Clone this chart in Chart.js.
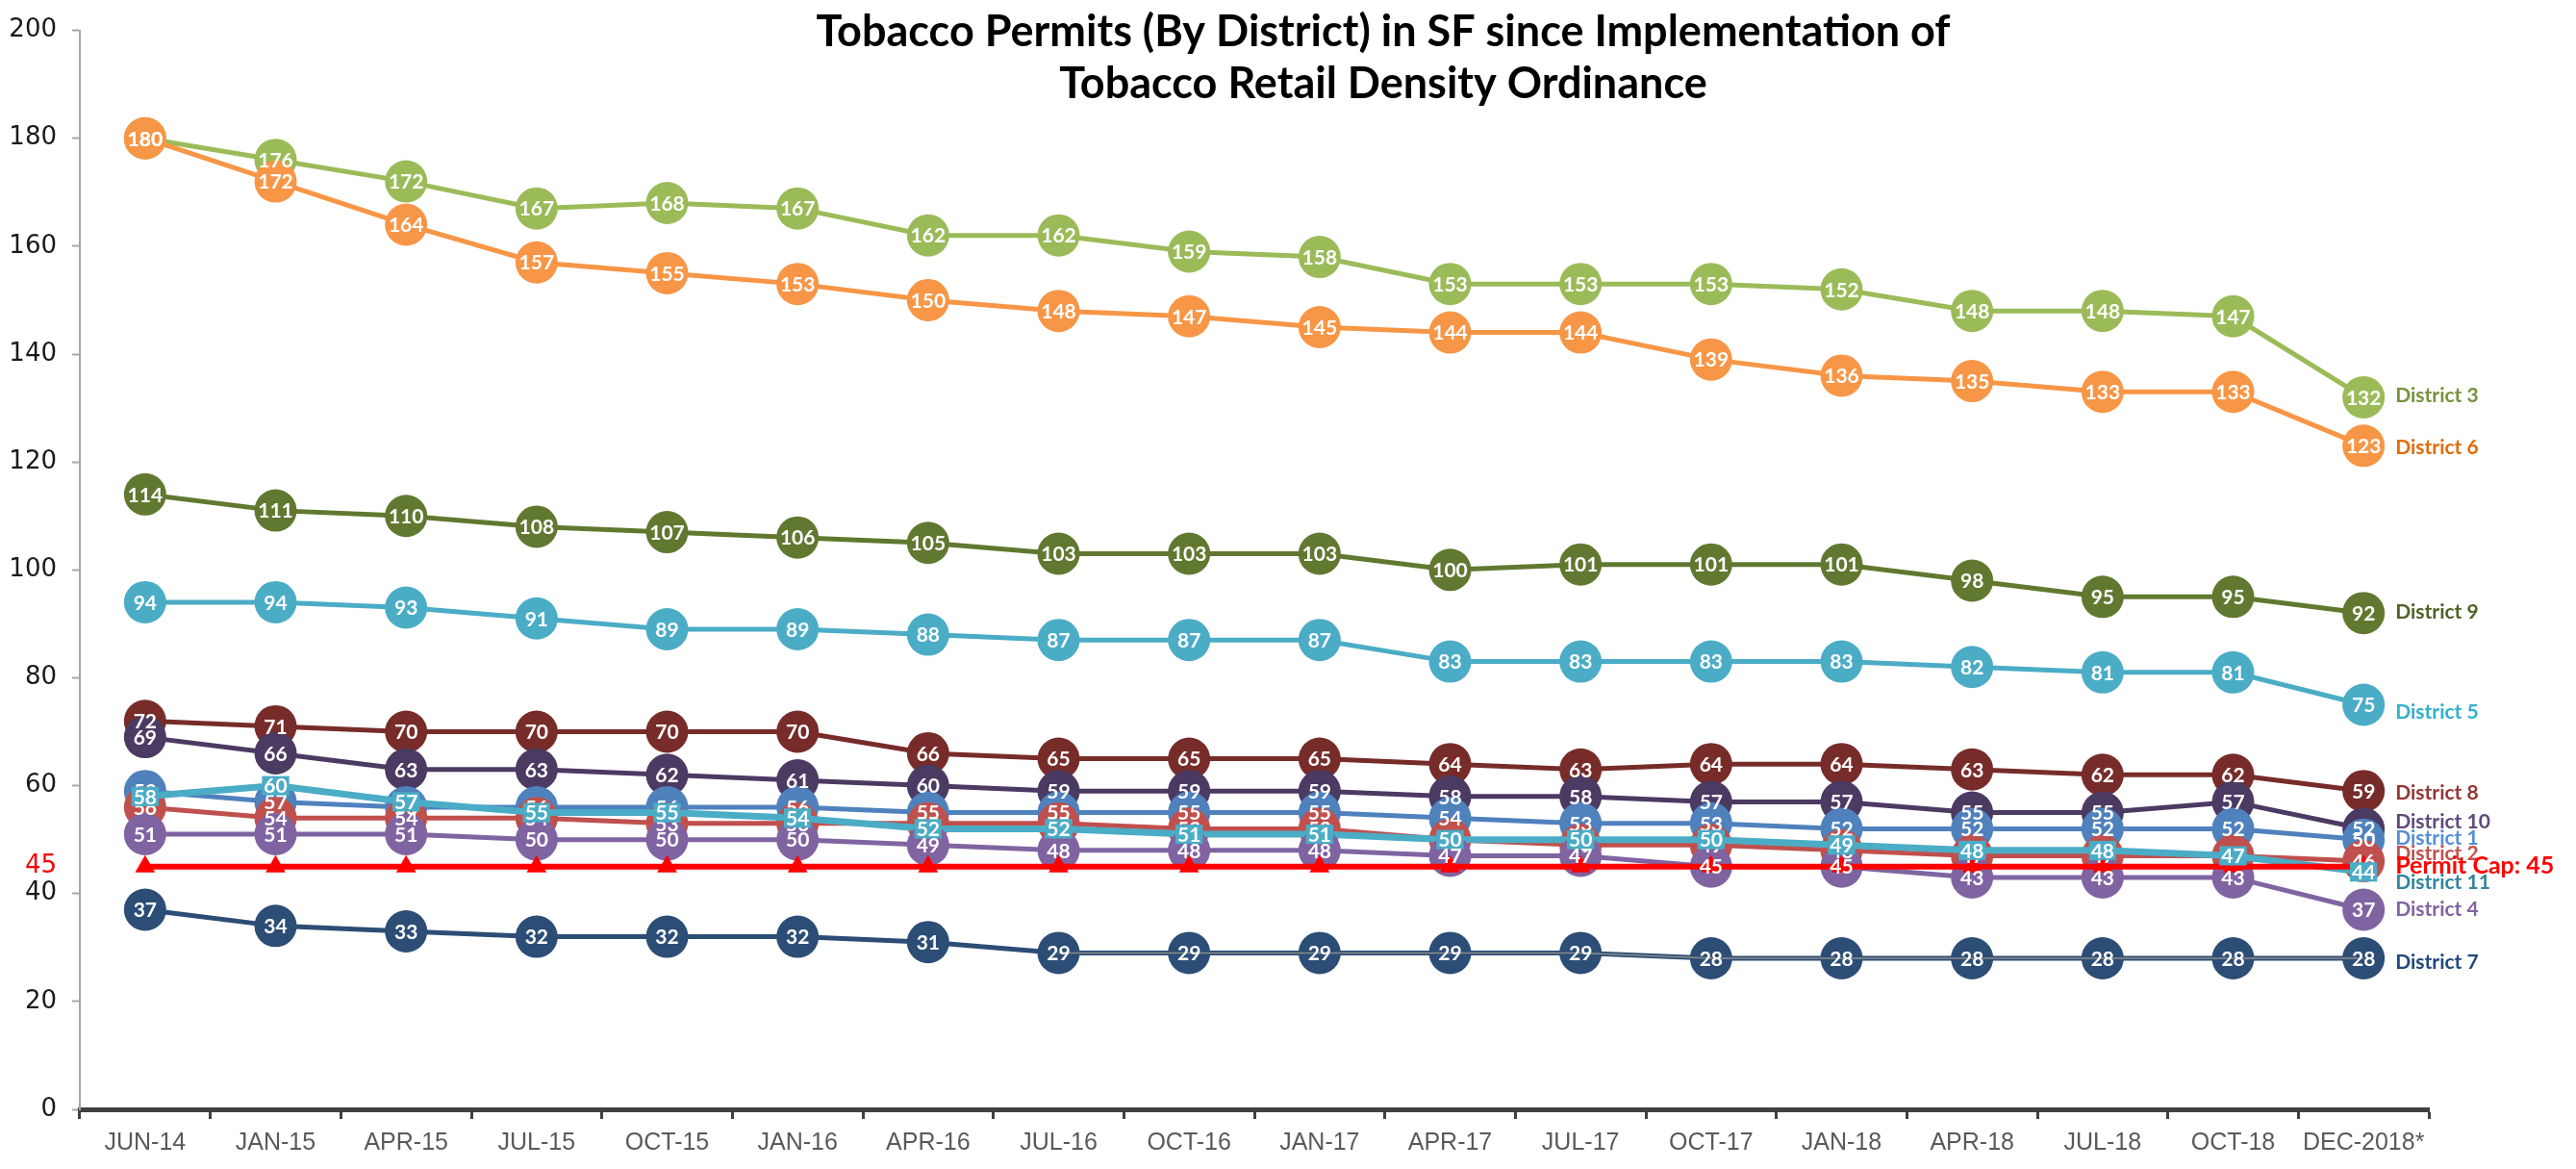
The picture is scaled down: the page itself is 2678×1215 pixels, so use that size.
<!DOCTYPE html>
<html>
<head>
<meta charset="utf-8">
<title>Tobacco Permits by District</title>
<script src="https://cdn.jsdelivr.net/npm/chart.js@4.4.1/dist/chart.umd.min.js"></script>
<style>
  html, body { margin: 0; padding: 0; background: #fff; }
  #chart { display: block; }
</style>
</head>
<body>
<canvas id="chart" width="2678" height="1215"></canvas>
<script>
// Data
const periods = ['JUN-14', 'JAN-15', 'APR-15', 'JUL-15', 'OCT-15', 'JAN-16', 'APR-16', 'JUL-16', 'OCT-16',
    'JAN-17', 'APR-17', 'JUL-17', 'OCT-17', 'JAN-18', 'APR-18', 'JUL-18', 'OCT-18', 'DEC-2018*'];

const district1  = [59, 57, 56, 56, 56, 56, 55, 55, 55, 55, 54, 53, 53, 52, 52, 52, 52, 50];
const district2  = [56, 54, 54, 54, 53, 53, 53, 53, 52, 52, 50, 49, 49, 48, 47, 47, 47, 46];
const district3  = [180, 176, 172, 167, 168, 167, 162, 162, 159, 158, 153, 153, 153, 152, 148, 148, 147, 132];
const district4  = [51, 51, 51, 50, 50, 50, 49, 48, 48, 48, 47, 47, 45, 45, 43, 43, 43, 37];
const district5  = [94, 94, 93, 91, 89, 89, 88, 87, 87, 87, 83, 83, 83, 83, 82, 81, 81, 75];
const district6  = [180, 172, 164, 157, 155, 153, 150, 148, 147, 145, 144, 144, 139, 136, 135, 133, 133, 123];
const district7  = [37, 34, 33, 32, 32, 32, 31, 29, 29, 29, 29, 29, 28, 28, 28, 28, 28, 28];
const district8  = [72, 71, 70, 70, 70, 70, 66, 65, 65, 65, 64, 63, 64, 64, 63, 62, 62, 59];
const district9  = [114, 111, 110, 108, 107, 106, 105, 103, 103, 103, 100, 101, 101, 101, 98, 95, 95, 92];
const district10 = [69, 66, 63, 63, 62, 61, 60, 59, 59, 59, 58, 58, 57, 57, 55, 55, 57, 52];
const district11 = [58, 60, 57, 55, 55, 54, 52, 52, 51, 51, 50, 50, 50, 49, 48, 48, 47, 44];
const permitCap  = [45, 45, 45, 45, 45, 45, 45, 45, 45, 45, 45, 45, 45, 45, 45, 45, 45, 45];
const district7Trend = [null, null, null, null, null, null, null, 29, 29, 29, 29, 29, 28, 28, 28, 28, 28, 28];

const yTicks = [0, 20, 40, 60, 80, 100, 120, 140, 160, 180, 200];
const capTick = 45;

// Where the series names sit on the right (in axis units, spread out where they crowd)
const endLabelNames  = ['District 3', 'District 6', 'District 9', 'District 5', 'District 8', 'District 10',
    'District 1', 'District 2', 'Permit Cap: 45', 'District 11', 'District 4', 'District 7'];
const endLabelAnchor = [132.3, 122.7, 92.1, 73.7, 58.7, 53.2, 50.2, 47.4, 45.1, 42.1, 37.0, 27.2];
const endLabelColors = ['#77933C', '#E36C09', '#4F6228', '#31B0CB', '#953735', '#5F497A',
    '#558ED5', '#C0504D', '#FF0000', '#31859C', '#8064A2', '#1F497D'];

const FONT = 'Lato, "Open Sans", sans-serif';

function districtSeries(label, data, color, order) {
    return {
        label, data, order,
        borderColor: color,
        backgroundColor: color,
        borderWidth: 5,
        pointStyle: 'circle',
        pointRadius: 22,
        pointBorderWidth: 0,
        pointBackgroundColor: color,
        tension: 0,
        showValues: true
    };
}

const datasets = [
    {
        label: 'Permit Cap', data: permitCap, order: 0,
        borderColor: '#FF0000', backgroundColor: '#FF0000', borderWidth: 6,
        pointStyle: 'triangle', pointRadius: 12, pointBorderWidth: 0, pointBackgroundColor: '#FF0000'
    },
    {
        label: 'District 7 trend', data: district7Trend, order: 1,
        borderColor: '#8C8C8C', borderWidth: 1.5, pointRadius: 0
    },
    districtSeries('District 4', district4, '#8064A2', 2),
    {
        label: 'District 11', data: district11, order: 3,
        borderColor: '#4BACC6', backgroundColor: '#4BACC6', borderWidth: 7,
        pointRadius: 0, showValues: true, valueBox: '#4BACC6'
    },
    districtSeries('District 2', district2, '#C0504D', 4),
    districtSeries('District 1', district1, '#4F81BD', 5),
    districtSeries('District 10', district10, '#4B3A62', 6),
    districtSeries('District 8', district8, '#772C2A', 7),
    districtSeries('District 5', district5, '#4BACC6', 8),
    districtSeries('District 9', district9, '#617830', 9),
    districtSeries('District 7', district7, '#2C4D75', 10),
    districtSeries('District 6', district6, '#F79646', 11),
    districtSeries('District 3', district3, '#9BBB59', 12)
];

// White value labels on the markers
const valueLabels = {
    id: 'valueLabels',
    afterDatasetsDraw(chart) {
        const ctx = chart.ctx;
        ctx.save();
        ctx.font = 'bold 21px ' + FONT;
        ctx.textAlign = 'center';
        ctx.textBaseline = 'middle';
        const metas = chart.getSortedVisibleDatasetMetas().slice().reverse();
        metas.forEach(meta => {
            const ds = chart.data.datasets[meta.index];
            if (!ds.showValues) return;
            meta.data.forEach((pt, j) => {
                const v = ds.data[j];
                if (v == null) return;
                const text = String(v);
                if (ds.valueBox) {
                    const w = ctx.measureText(text).width;
                    ctx.fillStyle = ds.valueBox;
                    ctx.fillRect(pt.x - w / 2 - 2, pt.y - 10, w + 4, 20);
                }
                ctx.fillStyle = '#FFFFFF';
                ctx.fillText(text, pt.x, pt.y + 1);
            });
        });
        ctx.restore();
    }
};

// Series names to the right of the last point, plus the two-line title
const sideText = {
    id: 'sideText',
    afterDraw(chart) {
        const ctx = chart.ctx;
        const y = chart.scales.y;
        const x = chart.scales.x;
        const lastX = x.getPixelForValue(periods.length - 1);
        ctx.save();
        ctx.textAlign = 'left';
        ctx.textBaseline = 'middle';
        endLabelNames.forEach((name, i) => {
            const isCap = name.startsWith('Permit');
            ctx.font = (isCap ? 'bold 25px ' : 'bold 21px ') + FONT;
            ctx.fillStyle = endLabelColors[i];
            ctx.fillText(name, lastX + 33, y.getPixelForValue(endLabelAnchor[i]));
        });

        ctx.textAlign = 'center';
        ctx.fillStyle = '#000000';
        ctx.font = 'bold 45px ' + FONT;
        ctx.fillText('Tobacco Permits (By District) in SF since Implementation of', 1438, 33);
        ctx.fillText('Tobacco Retail Density Ordinance', 1438, 87);
        ctx.restore();
    }
};

new Chart(document.getElementById('chart').getContext('2d'), {
    type: 'line',
    data: { labels: periods, datasets },
    options: {
        responsive: false,
        devicePixelRatio: 1,
        animation: false,
        layout: { padding: { top: 22, right: 153, left: 0, bottom: 0 } },
        plugins: {
            legend: { display: false },
            title: { display: false },
            tooltip: { enabled: false }
        },
        scales: {
            x: {
                offset: true,
                grid: {
                    offset: true,
                    drawOnChartArea: false,
                    drawTicks: true,
                    tickLength: 10,
                    tickWidth: 3,
                    color: '#404040'
                },
                border: { color: '#404040', width: 5 },
                ticks: {
                    color: '#595959',
                    font: { family: '"Liberation Sans", Arial, sans-serif', size: 25 },
                    padding: 10,
                    maxRotation: 0,
                    autoSkip: false
                },
                afterFit(scale) { scale.height = 62; }
            },
            y: {
                min: 0,
                max: 200,
                afterBuildTicks(scale) {
                    scale.ticks = yTicks.concat([capTick]).sort((a, b) => a - b).map(v => ({ value: v }));
                },
                grid: {
                    drawOnChartArea: false,
                    drawTicks: true,
                    tickLength: 8,
                    tickWidth: 2,
                    color: (c) => (c.tick && c.tick.value === capTick) ? 'rgba(0,0,0,0)' : '#A6A6A6'
                },
                border: { color: '#A6A6A6', width: 2 },
                ticks: {
                    color: (c) => (c.tick && c.tick.value === capTick) ? '#FF0000' : '#1A1A1A',
                    font: { family: '"DejaVu Sans", Verdana, sans-serif', size: 26 },
                    padding: 16
                },
                afterFit(scale) { scale.width = 83; }
            }
        }
    },
    plugins: [valueLabels, sideText]
});
</script>
</body>
</html>
